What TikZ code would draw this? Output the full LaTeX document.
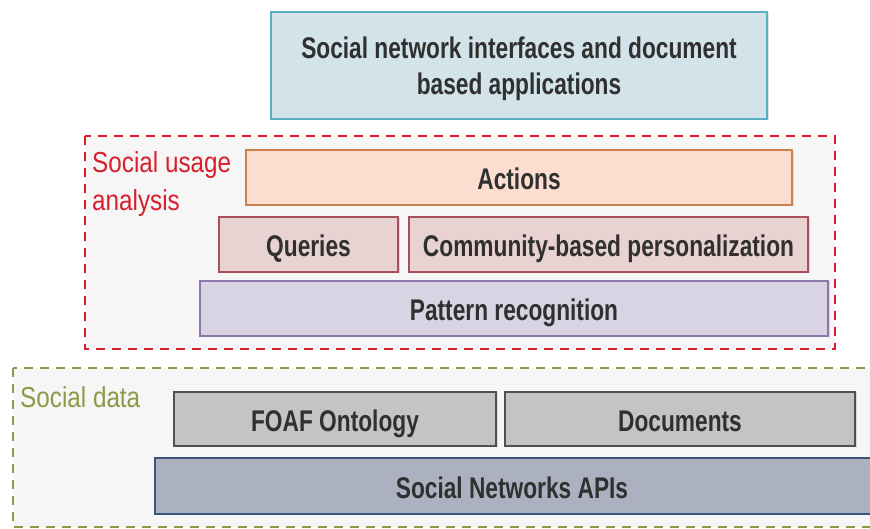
\documentclass[tikz,border=0pt]{standalone}
\usepackage{fontspec}
\setmainfont[FakeStretch=0.84]{Liberation Sans}
\newfontfamily\boxfont[FakeStretch=0.76]{Liberation Sans}
\usetikzlibrary{shadows}
\definecolor{topfill}{HTML}{D2E3EA}
\definecolor{topdraw}{HTML}{5AAEC2}
\definecolor{actfill}{HTML}{FCDDD0}
\definecolor{actdraw}{HTML}{C8844C}
\definecolor{qfill}{HTML}{E9D2D2}
\definecolor{qdraw}{HTML}{A85058}
\definecolor{pfill}{HTML}{D9D4E3}
\definecolor{pdraw}{HTML}{8C78AA}
\definecolor{gfill}{HTML}{C4C4C4}
\definecolor{gdraw}{HTML}{505050}
\definecolor{afill}{HTML}{ABB1C0}
\definecolor{adraw}{HTML}{3E5478}
\definecolor{redlab}{HTML}{D8202C}
\definecolor{greenlab}{HTML}{8A9A48}
\definecolor{panel}{HTML}{F6F6F6}
\definecolor{txt}{HTML}{303030}
\tikzset{
  layer/.style={draw, line width=1.3pt, font=\boxfont\fontsize{30}{36}\selectfont\bfseries, text=txt,
    drop shadow={shadow xshift=1.5pt, shadow yshift=-1.5pt, opacity=0.25}},
  layertext/.style={font=\boxfont\fontsize{30}{36}\selectfont\bfseries, text=txt},
  onel/.style={text height=26bp, text depth=1.5bp},
  grp/.style={dash pattern=on 9bp off 7bp, line width=1.7pt, fill=panel},
  grplab/.style={anchor=north west, font=\fontsize{29}{39}\selectfont, align=left, inner sep=0pt},
}
\begin{document}
\begin{tikzpicture}[x=1bp,y=-1bp]
\useasboundingbox (0,0) rectangle (870,529);
\clip (0,0) rectangle (870,529);
% groups
\draw[grp, draw=redlab] (85,136) rectangle (835,349);
\node[grplab, text=redlab] (lab1) at (92,151) {Social usage\\analysis};
\draw[grp, draw=greenlab] (13,368) rectangle (880,527);
\node[grplab, text=greenlab] (lab2) at (20,386) {Social data};
% top
\node[layer, fill=topfill, draw=topdraw, minimum width=496bp, minimum height=107bp] (top) at (519,65.5) {};
\node[layertext, align=center] (topt) at (519,69) {Social network interfaces and document\\based applications};
% usage
\node[layer, onel, fill=actfill, draw=actdraw, minimum width=546bp, minimum height=55bp] (act) at (519,177.5) {Actions};
\node[layer, onel, fill=qfill, draw=qdraw, minimum width=179bp, minimum height=55bp] (q) at (308.5,244.5) {Queries};
\node[layer, onel, fill=qfill, draw=qdraw, minimum width=399bp, minimum height=55bp] (comm) at (608.5,244.5) {Community-based personalization};
\node[layer, onel, fill=pfill, draw=pdraw, minimum width=628bp, minimum height=55bp] (pat) at (514,308.5) {Pattern recognition};
% data
\node[layer, onel, fill=gfill, draw=gdraw, minimum width=322bp, minimum height=54bp] (foaf) at (335,419) {FOAF Ontology};
\node[layer, onel, fill=gfill, draw=gdraw, minimum width=350bp, minimum height=54bp] (docs) at (680,419) {Documents};
\node[layer, fill=afill, draw=adraw, minimum width=730bp, minimum height=56bp] (api) at (520,486) {};
\node[layertext, onel] (apit) at (512,486) {Social Networks APIs};
\end{tikzpicture}
\end{document}
